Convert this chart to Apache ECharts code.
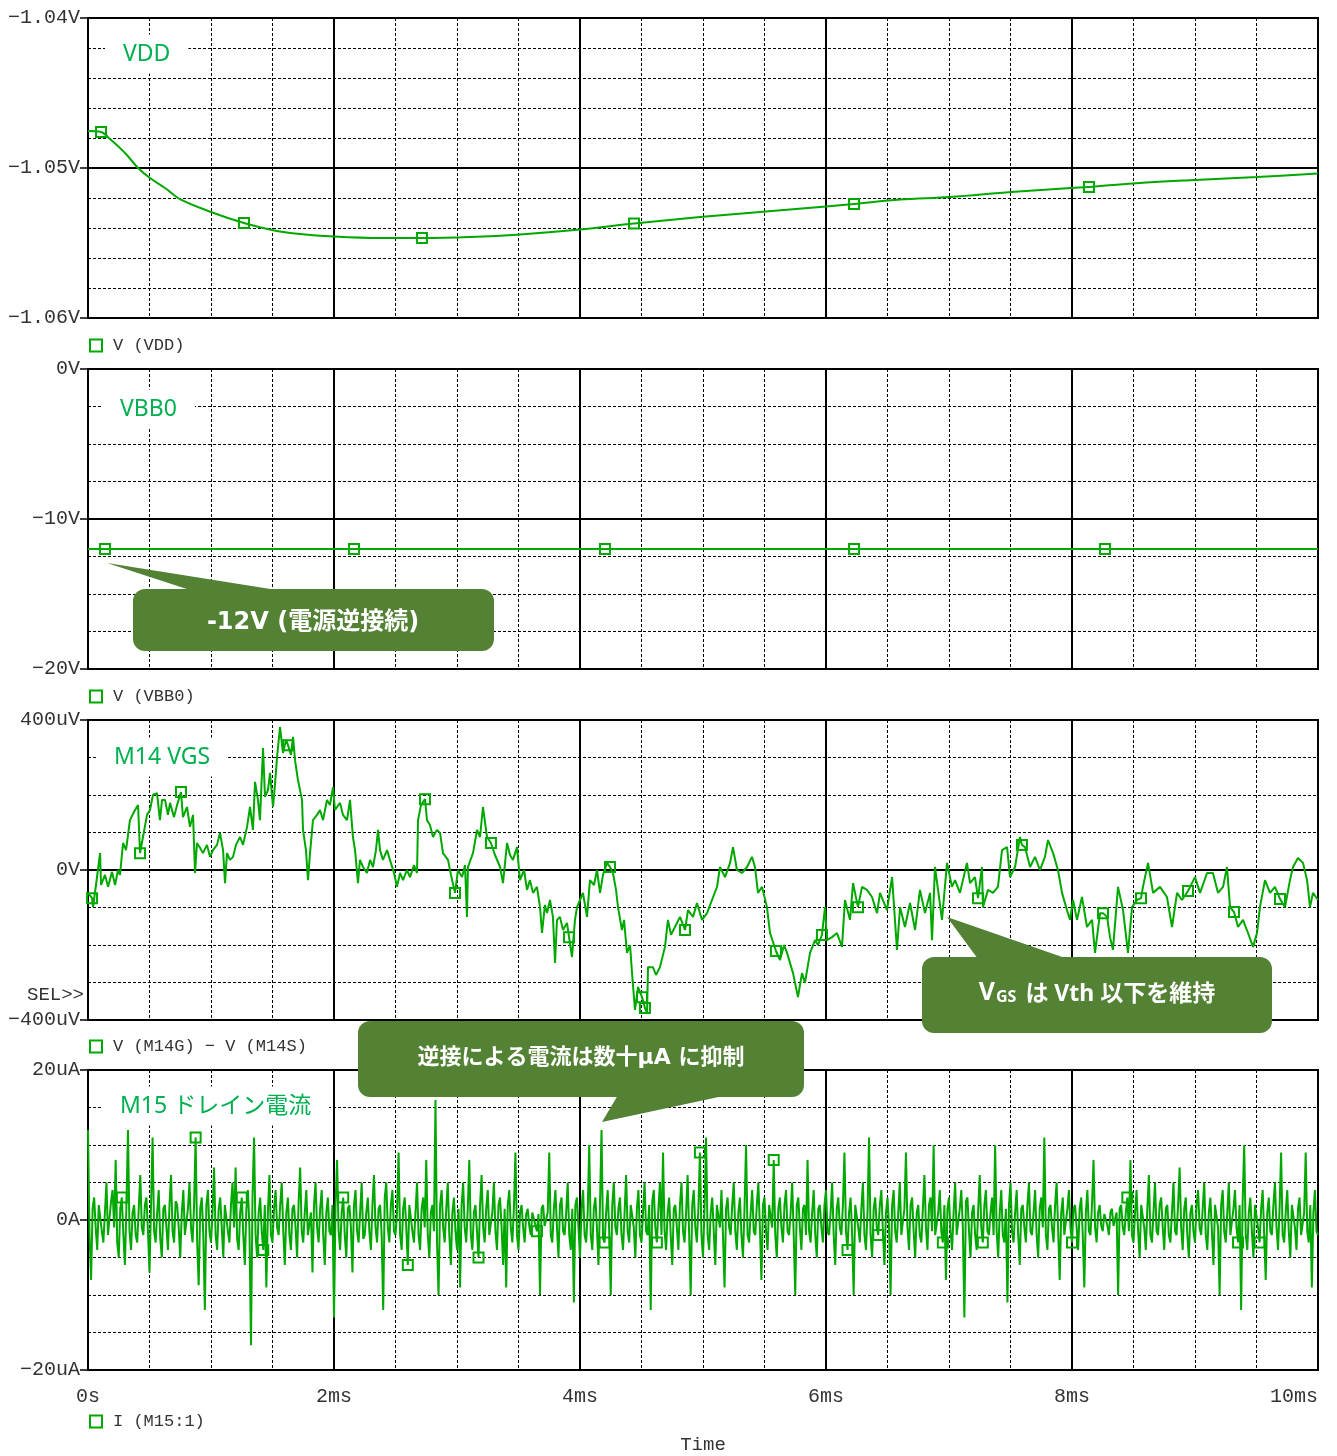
<!DOCTYPE html>
<html>
<head>
<meta charset="utf-8">
<title>逆接続時の波形</title>
<script src="https://cdn.jsdelivr.net/npm/echarts@6/dist/echarts.min.js"></script>
<style>
  html, body { margin: 0; padding: 0; background: #ffffff; }
  #chart { width: 1337px; height: 1456px; }
</style>
</head>
<body>
<div id="chart"></div>
<script>
// ---- time axis (ms) ----
const timeTicks = ['0s', '2ms', '4ms', '6ms', '8ms', '10ms'];

// ---- V(VDD), mV ----
const vddTicks = ['−1.06V', '−1.05V', '−1.04V'];
const vddTime = [0, 0.106, 0.179, 0.301, 0.407, 0.504, 0.626, 0.748, 1.0, 1.268, 1.496, 1.724, 2.0, 2.374, 2.715, 3.106,
  3.512, 4.0, 4.439, 4.976, 5.463, 6.0, 6.228, 6.602, 7.008, 7.504, 7.992, 8.138, 8.496, 9.0, 9.504, 10.0];
const vddValue = [-1047.53, -1047.6, -1048.07, -1049.0, -1050.0, -1050.67, -1051.33, -1052.07, -1052.93, -1053.67,
  -1054.13, -1054.4, -1054.57, -1054.67, -1054.67, -1054.6, -1054.43, -1054.1, -1053.7, -1053.27, -1052.93,
  -1052.57, -1052.4, -1052.1, -1051.93, -1051.6, -1051.33, -1051.27, -1051.03, -1050.8, -1050.6, -1050.37];
const vddMarkers = [1, 9, 14, 18, 22, 27];

// ---- V(VBB0), V ----
const vbbTicks = ['−20V', '−10V', '0V'];
const vbbTime = [0, 0.138, 2.163, 4.203, 6.228, 8.268, 10];
const vbbValue = [-12, -12, -12, -12, -12, -12, -12];
const vbbMarkers = [1, 2, 3, 4, 5];

// ---- V(M14G) - V(M14S), uV ----
const vgsTicks = ['−400uV', '0V', '400uV'];
const vgsTime = [
  0, 0.033, 0.041, 0.065, 0.098, 0.106, 0.138, 0.163, 0.195, 0.220,
  0.244, 0.260, 0.285, 0.309, 0.341, 0.382, 0.407, 0.423, 0.447, 0.480,
  0.504, 0.528, 0.561, 0.585, 0.602, 0.626, 0.650, 0.667, 0.699, 0.724,
  0.756, 0.772, 0.805, 0.829, 0.854, 0.870, 0.886, 0.911, 0.935, 0.967,
  0.992, 1.016, 1.049, 1.073, 1.098, 1.114, 1.130, 1.154, 1.179, 1.203,
  1.236, 1.260, 1.293, 1.317, 1.341, 1.358, 1.382, 1.398, 1.423, 1.439,
  1.463, 1.480, 1.504, 1.520, 1.537, 1.561, 1.585, 1.610, 1.626, 1.650,
  1.667, 1.683, 1.707, 1.740, 1.748, 1.772, 1.789, 1.805, 1.829, 1.862,
  1.886, 1.911, 1.943, 1.967, 1.992, 2.008, 2.049, 2.073, 2.106, 2.130,
  2.154, 2.171, 2.195, 2.211, 2.236, 2.268, 2.293, 2.317, 2.341, 2.358,
  2.374, 2.398, 2.431, 2.455, 2.488, 2.512, 2.537, 2.561, 2.593, 2.618,
  2.650, 2.675, 2.683, 2.707, 2.740, 2.756, 2.780, 2.805, 2.837, 2.862,
  2.886, 2.927, 2.951, 2.984, 3.008, 3.041, 3.065, 3.081, 3.089, 3.130,
  3.163, 3.187, 3.211, 3.244, 3.276, 3.309, 3.350, 3.374, 3.407, 3.431,
  3.455, 3.488, 3.512, 3.545, 3.569, 3.593, 3.618, 3.650, 3.675, 3.691,
  3.715, 3.732, 3.756, 3.780, 3.797, 3.813, 3.837, 3.862, 3.894, 3.911,
  3.935, 3.959, 3.976, 4.000, 4.024, 4.057, 4.081, 4.114, 4.138, 4.163,
  4.187, 4.220, 4.244, 4.268, 4.293, 4.309, 4.341, 4.358, 4.382, 4.407,
  4.423, 4.447, 4.472, 4.504, 4.528, 4.545, 4.553, 4.593, 4.618, 4.634,
  4.650, 4.691, 4.715, 4.740, 4.772, 4.813, 4.854, 4.878, 4.919, 4.951,
  4.992, 5.033, 5.073, 5.114, 5.138, 5.179, 5.220, 5.244, 5.276, 5.317,
  5.358, 5.398, 5.423, 5.447, 5.480, 5.520, 5.545, 5.593, 5.626, 5.659,
  5.683, 5.732, 5.772, 5.805, 5.829, 5.870, 5.911, 5.935, 5.967, 5.992,
  6.008, 6.049, 6.089, 6.130, 6.154, 6.195, 6.220, 6.260, 6.293, 6.333,
  6.374, 6.415, 6.439, 6.496, 6.537, 6.577, 6.602, 6.642, 6.683, 6.724,
  6.764, 6.805, 6.846, 6.862, 6.886, 6.911, 6.943, 6.984, 7.024, 7.049,
  7.089, 7.146, 7.171, 7.211, 7.236, 7.268, 7.276, 7.317, 7.358, 7.398,
  7.431, 7.472, 7.496, 7.537, 7.577, 7.593, 7.618, 7.659, 7.699, 7.740,
  7.780, 7.805, 7.846, 7.886, 7.919, 7.959, 7.984, 8.008, 8.041, 8.081,
  8.122, 8.163, 8.187, 8.228, 8.252, 8.285, 8.309, 8.333, 8.374, 8.415,
  8.455, 8.488, 8.528, 8.561, 8.577, 8.618, 8.659, 8.715, 8.772, 8.813,
  8.854, 8.894, 8.943, 9.000, 9.041, 9.098, 9.146, 9.187, 9.228, 9.260,
  9.285, 9.317, 9.350, 9.390, 9.431, 9.472, 9.504, 9.528, 9.569, 9.610,
  9.650, 9.691, 9.732, 9.772, 9.797, 9.837, 9.878, 9.911, 9.935, 9.959, 10.000
];
const vgsValue = [
  -61, -75, -99, -40, 45, -40, -13, -45, -5, -40,
  0, -13, 72, 53, 133, 160, 173, 45, 88, 147,
  160, 200, 205, 133, 187, 187, 147, 179, 141, 173,
  208, 141, 168, 115, 147, -8, 72, 59, 45, 67,
  35, 53, 67, 99, 53, -35, 45, 27, 35, 67,
  88, 67, 115, 168, 107, 235, 187, 133, 325, 195,
  213, 259, 168, 227, 301, 381, 312, 347, 333, 307,
  355, 293, 240, 187, 107, 53, -27, 45, 133, 147,
  160, 133, 187, 173, 221, 160, 179, 147, 133, 187,
  88, 53, -35, 27, 8, -8, 27, 8, 53, 107,
  53, 27, 53, 27, -8, -45, -8, -27, 0, -19,
  13, -8, 133, 173, 189, 133, 120, 88, 107, 99,
  45, 27, -13, -61, 0, -19, 13, -125, 8, 45,
  107, 88, 168, 88, 72, 40, 8, -35, 72, 40,
  27, 61, -27, 0, -53, -27, -61, -45, -99, -168,
  -93, -115, -80, -125, -248, -133, -125, -160, -141, -179,
  -232, -133, -99, -80, -61, -125, -27, -40, 0, -61,
  -13, 19, 8, -8, -53, -99, -160, -133, -221, -200,
  -275, -373, -312, -339, -368, -381, -259, -259, -280, -285,
  -259, -205, -133, -173, -152, -125, -160, -107, -125, -88,
  -133, -115, -80, -45, 8, -19, 19, 61, 0, -8,
  8, 35, 8, -61, -45, -99, -168, -216, -240, -200,
  -221, -275, -339, -275, -301, -221, -187, -200, -173, -99,
  -187, -179, -168, -205, -80, -133, -35, -99, -45, -53,
  -72, -115, -61, -107, -19, -213, -99, -152, -88, -160,
  -53, -115, -61, -187, 8, -53, -133, 19, -45, -27,
  -61, 19, -35, -19, -75, 8, -99, -53, -61, -45,
  53, 61, -19, 8, 88, 67, 61, 8, 35, 0,
  35, 80, 45, 0, -61, -107, -133, -80, -133, -72,
  -152, -133, -221, -115, -115, -125, -179, -213, -45, -107,
  -221, -99, -80, -75, -45, 19, -61, -45, -72, -152,
  -61, -80, -56, -19, -61, -8, -8, -61, -45, 8,
  -99, -112, -152, -133, -168, -205, -168, -99, -27, -61,
  -45, -77, -99, -27, 8, 32, 19, -27, -99, -61, -80
];
const vgsMarkers = [1, 17, 30, 68, 114, 123, 134, 159, 172, 183, 184, 196, 217, 228, 237, 264, 275, 294, 303, 312, 321, 331];

// ---- I(M15:1), uA, evenly sampled over 0..10 ms ----
const idTicks = ['−20uA', '0A', '20uA'];
const idSpanMs = 10;
const idValue = [
  12,-2, -8,1.5, 3,-1, -4,2, 2,-1.5, -3,1, 5,-2, -2,2.5, 4,-1, 8,-3, -5,1.5, 3,-2, -6,2, 12,-1.5, -4,1, 2,-2, -3,1.5, 6,-1, -2,2, 3,-1.5,
  -7,2, 11,-1.5, -3,1, 4,-2.5, -5,1.5, 2,-1, -4,2, 6,-1.5, -3,2.5, 2,-1, -5,1, 4,-2, -2,1.5, 5,-1, -3,2, 11,-3, -8.7,1.5, 3,-2, -12,2, 4,-1.5,
  -3,1, 7,-2, -4,1.5, 3,-1, -5,2, 2,-1.5, -3,2, 5,-1, 7,-2.5, -4,1, 3,-2, -6,1.5, 4,-1, -16.7,3, 11,-2, -5,1, 3,-1.5, -4,2, -9,1, 6,-2,
  -3,1.5, 4,-1, -2,2, 5,-1.5, -6,1, 3,-2, -4,1.5, 2,-1, -5,2.5, 7,-1.5, -3,1, 4,-2, -2,1, -7,2, 5,-1, -3,1.5, 4,-2, -6,1, 3,-1.5, -2,2,
  -13,2, 8,-1.5, -4,1, 3,-2, -5,1.5, 2,-1, -7,2, 4,-1.5, -3,1, 5,-2.5, -2,1, 3,-1.5, -4,2, 6,-1, -3,1.5, 2,-2, -12,3, 5,-1, -3,2, 4,-1.5,
  -2,1, 9,-2, -4,1.5, 3,-1, -6,2, 2,-1.5, -3,1, 5,-2, -4,1.5, 3,-1, 8,-2, -5,1, 2,-1.5, 16,-3, -10,2, 4,-1, -3,1.5, 5,-2, -6,1, 3,-1.5,
  -4,1.5, -9,2, 5,-1, -3,1.5, 8,-2, -4,1, 2,-1.5, -5,2, 6,-1, -3,1.5, 4,-2, -2,1, 5,-1.5, -4,2, 3,-1, -6,1.5, -9,2, 4,-1, -3,1.5, 9,-2,
  -4,1, 2,-1, -3,0.8, 1.5,-0.8, -2,1, 1,-0.7, -1.5,0.8, -10,1.5, 2,-0.8, -1,1, 9,-2, -3,1.5, 4,-1, -5,2, 3,-1.5, -2,1, 5,-2, -4,1.5, -11,2, 3,-1,
  -5,1.5, 4,-2, -3,1, 10,-2, -4,1.5, 3,-1, -6,2, 12,-2.5, -3,1, 4,-1.5, -10,2, 5,-1, -2,1.5, 3,-2, -4,1, 6,-1.5, -3,2, 2,-1, -5,1.5, 4,-2,
  -3,1, 5,-1.5, -2,2, -12,2.5, 4,-1, -3,1.5, 5,-2, 9,-1.5, -4,1, 3,-2, -6,1.5, 2,-1, -4,2, 5,-1.5, -3,1, 6,-2, -10,2, 4,-1, -3,1.5, 9,-2,
  -5,1.5, 11,-2, -4,1, 3,-1.5, -6,2, 2,-1, 4,-2, -9,1.5, 3,-1, -2,2, 5,-1.5, -4,1, 3,-2, -5,1.5, 10,-2, -3,1, 4,-1.5, -2,2, 5,-1, -8,2,
  3,-1.5, -4,2, 2,-1, 8,-2, -5,1.5, 3,-1, -3,2, 4,-1.5, -2,1, 5,-2, -10,2, 3,-1, -4,1.5, 2,-2, 8,-1.5, -3,1, 4,-2, -5,1.5, 2,-1, -3,2,
  4,-1.5, -2,1, 5,-2, -6,1.5, 3,-1, -2,2, 9,-1.5, -4,1, 3,-2, -10,2, 2,-1, -3,1.5, 5,-2, -4,1, 11,-2, -5,1.5, 3,-1, -2,2, 4,-1.5, -6,1,
  3,-1, -10,2, 4,-1.5, -3,1, 5,-2, -2,1.5, 9,-1, -4,2, 3,-1.5, -5,1, 2,-2, -3,1.5, 6,-1, -4,2, 3,-1.5, 10,-2, -2,1, 4,-1.5, -3,2, -8,1.5,
  3,-1.5, -4,1, 5,-2, -2,1.5, 4,-1, -13,2.5, 3,-1.5, -5,1, 2,-2, -4,1.5, 6,-1, -3,2, 4,-1.5, -2,1, 3,-2, 10,-1.5, -5,1, 4,-2, -3,1.5, -11,2,
  5,-1.5, -3,1, 4,-2, -6,1.5, 2,-1, -3,2, 5,-1.5, -2,1, 4,-2, -5,1.5, 3,-1, 11,-2, -4,1.5, 2,-1, -3,2, 5,-1.5, -8,1, 3,-2, -2,1.5, 4,-1,
  -3,1.5, 2,-1, -4,1.5, 3,-2, -9,1, 4,-1.5, -2,2, 8,-1, -3,1, 2,-0.8, -1.5,0.8, 1,-0.7, -2,1, 1.5,-0.8, -1,1, -10,1.5, 2,-1, -2,1, 3,-1.5, 8,-2,
  -3,1, 4,-1.5, -5,2, 2,-1, -4,1.5, 6,-2, -3,1, 5,-1.5, -2,2, 3,-1, -4,1.5, 2,-2, -3,1, 5,-1.5, -2,2, 7,-1, -4,1.5, 3,-2, -5,1, 2,-1.5,
  -3,2, 4,-1, -2,1.5, 5,-2, -4,1, 3,-1.5, -6,2, 2,-1, -10,2, 4,-1.5, -3,1, 5,-2, -2,1.5, 4,-1, -3,2, -12,2.5, 10,-2, -4,1, 3,-1.5, -5,2,
  2,-1, -3,1.5, 4,-2, -8,1, 3,-1.5, -2,2, 5,-1, -4,1.5, 9,-2, -3,1, 4,-1.5, -5,2, 2,-1, -4,1.5, 3,-2, -2,1, 9,-1.5, -3,2, -9,1, 4,-1.5,
  -2
];
const idMarkers = [22, 70, 100, 114, 166, 208, 254, 292, 336, 370, 398, 446, 494, 514, 556, 582, 640, 676, 748, 762];

// ---- styling ----
const TRACE = '#00a800';
const TITLE_GREEN = '#00b050';
const CALLOUT = '#548235';
const INK = '#333333';
const MONO = '"Liberation Mono", "DejaVu Sans Mono", monospace';
const SANS = '"Noto Sans", "Noto Sans CJK JP", sans-serif';
const WIDE_JP = '"DejaVu Sans", "Noto Sans CJK JP", sans-serif';

const panels = [
  { name: 'V (VDD)', top: 18, min: -1060, max: -1040, step: 10, minor: 5, ticks: vddTicks,
    times: vddTime, values: vddValue, markers: vddMarkers, legendTop: 337, smooth: 0.35 },
  { name: 'V (VBB0)', top: 369, min: -20, max: 0, step: 10, minor: 4, ticks: vbbTicks,
    times: vbbTime, values: vbbValue, markers: vbbMarkers, legendTop: 688, smooth: false },
  { name: 'V (M14G) − V (M14S)', top: 720, min: -400, max: 400, step: 400, minor: 4, ticks: vgsTicks,
    times: vgsTime, values: vgsValue, markers: vgsMarkers, legendTop: 1038, smooth: false },
  { name: 'I (M15:1)', top: 1070, min: -20, max: 20, step: 20, minor: 4, ticks: idTicks,
    times: idValue.map((_, i) => i * idSpanMs / (idValue.length - 1)), values: idValue, markers: idMarkers,
    legendTop: 1413, smooth: false }
];

function traceData(times, values, markers) {
  const set = new Set(markers);
  return values.map((v, i) => ({ value: [times[i], v], symbol: set.has(i) ? 'rect' : 'none' }));
}

const grids = panels.map(p => ({
  left: 88, top: p.top, width: 1230, height: 300,
  show: true, borderColor: '#000', borderWidth: 2, backgroundColor: 'transparent',
  containLabel: false, outerBoundsMode: 'none'
}));

const minorLine = { color: '#000', width: 1, type: [3, 2] };

const xAxes = panels.map((p, k) => {
  const last = k === panels.length - 1;
  return {
    type: 'value', gridIndex: k, min: 0, max: 10, interval: 2,
    axisLine: { show: false },
    axisTick: { show: last, length: 6, inside: false, lineStyle: { color: '#000', width: 2 } },
    axisLabel: {
      show: last, margin: 17, color: INK, fontFamily: MONO, fontSize: 20,
      showMinLabel: true, showMaxLabel: true, alignMaxLabel: 'right', hideOverlap: false,
      formatter: v => timeTicks[Math.round(v / 2)]
    },
    splitLine: { show: true, lineStyle: { color: '#000', width: 2, type: 'solid' } },
    minorTick: { show: false, splitNumber: 4 },
    minorSplitLine: { show: true, lineStyle: minorLine }
  };
});

const yAxes = panels.map((p, k) => ({
  type: 'value', gridIndex: k, min: p.min, max: p.max, interval: p.step,
  axisLine: { show: false },
  axisTick: { show: true, length: 8, inside: false, lineStyle: { color: '#000', width: 1.5 } },
  axisLabel: {
    show: true, margin: 8, color: INK, fontFamily: MONO, fontSize: 20,
    showMinLabel: true, showMaxLabel: true, hideOverlap: false,
    formatter: v => p.ticks[Math.round((v - p.min) / p.step)]
  },
  splitLine: { show: true, lineStyle: { color: '#000', width: 2, type: 'solid' } },
  minorTick: { show: false, splitNumber: p.minor },
  minorSplitLine: { show: true, lineStyle: minorLine }
}));

const series = panels.map((p, k) => ({
  type: 'line', name: p.name, xAxisIndex: k, yAxisIndex: k,
  data: traceData(p.times, p.values, p.markers),
  smooth: p.smooth,
  showSymbol: true, showAllSymbol: true, symbol: 'rect', symbolSize: 10,
  lineStyle: { color: TRACE, width: 2 },
  itemStyle: { color: 'rgba(0,0,0,0)', borderColor: TRACE, borderWidth: 2 },
  emphasis: { disabled: true },
  clip: true, z: 3
}));

const legends = panels.map(p => ({
  data: [p.name], left: 89, top: p.legendTop, padding: 0,
  icon: 'rect', itemWidth: 12, itemHeight: 12, selectedMode: false,
  itemStyle: { color: 'rgba(0,0,0,0)', borderColor: TRACE, borderWidth: 2 },
  textStyle: { color: INK, fontFamily: MONO, fontSize: 17, padding: [0, 0, 0, 6] }
}));

function panelTitle(text, x, y) {
  return {
    type: 'text', x: x, y: y, z: 50,
    style: {
      text: text, fill: TITLE_GREEN, fontFamily: SANS, fontSize: 23,
      align: 'left', verticalAlign: 'middle',
      backgroundColor: '#ffffff', padding: [8, 18]
    }
  };
}

function callout(tip, base, box, textEl) {
  return [
    { type: 'polygon', z: 100, shape: { points: [tip, base[0], base[1]] }, style: { fill: CALLOUT } },
    { type: 'rect', z: 100, shape: { x: box[0], y: box[1], width: box[2], height: box[3], r: 12 }, style: { fill: CALLOUT } },
    Object.assign({ type: 'text', z: 101 }, textEl)
  ];
}

const graphics = [
  panelTitle('VDD', 105, 54),
  panelTitle('VBB0', 102, 409),
  panelTitle('M14 VGS', 96, 757),
  panelTitle('M15 ドレイン電流', 102, 1106),
  { type: 'text', x: 84, y: 995, z: 50,
    style: { text: 'SEL>>', fill: INK, fontFamily: MONO, fontSize: 19, align: 'right', verticalAlign: 'middle' } },
  { type: 'text', x: 703, y: 1445, z: 50,
    style: { text: 'Time', fill: INK, fontFamily: MONO, fontSize: 19, align: 'center', verticalAlign: 'middle' } },
  ...callout([107, 563], [[193, 591], [283, 591]], [133, 589, 361, 62], {
    x: 313, y: 623,
    style: { text: '-12V (電源逆接続)', fill: '#ffffff', fontFamily: WIDE_JP, fontWeight: 'bold', fontSize: 24,
      align: 'center', verticalAlign: 'middle' }
  }),
  ...callout([602, 1122], [[618, 1095], [728, 1095]], [358, 1021, 446, 76], {
    x: 581, y: 1058,
    style: { text: '逆接による電流は数十μA に抑制', fill: '#ffffff', fontFamily: WIDE_JP, fontWeight: 'bold', fontSize: 22,
      align: 'center', verticalAlign: 'middle' }
  }),
  ...callout([947, 917], [[978, 959], [1068, 959]], [922, 957, 350, 76], {
    x: 1097, y: 993,
    style: {
      text: '{v|V}{s|GS}{t| は Vth 以下を維持}',
      align: 'center', verticalAlign: 'middle',
      rich: {
        v: { fill: '#ffffff', fontFamily: SANS, fontWeight: 'bold', fontSize: 25, verticalAlign: 'bottom' },
        s: { fill: '#ffffff', fontFamily: SANS, fontWeight: 'bold', fontSize: 16, verticalAlign: 'bottom', padding: [0, 3, 0, 1] },
        t: { fill: '#ffffff', fontFamily: SANS, fontWeight: 'bold', fontSize: 23, verticalAlign: 'bottom' }
      }
    }
  })
];

const chart = echarts.init(document.getElementById('chart'), null, { renderer: 'canvas', devicePixelRatio: 1 });
chart.setOption({
  animation: false,
  backgroundColor: '#ffffff',
  grid: grids,
  xAxis: xAxes,
  yAxis: yAxes,
  legend: legends,
  series: series,
  graphic: graphics
});
</script>
</body>
</html>
